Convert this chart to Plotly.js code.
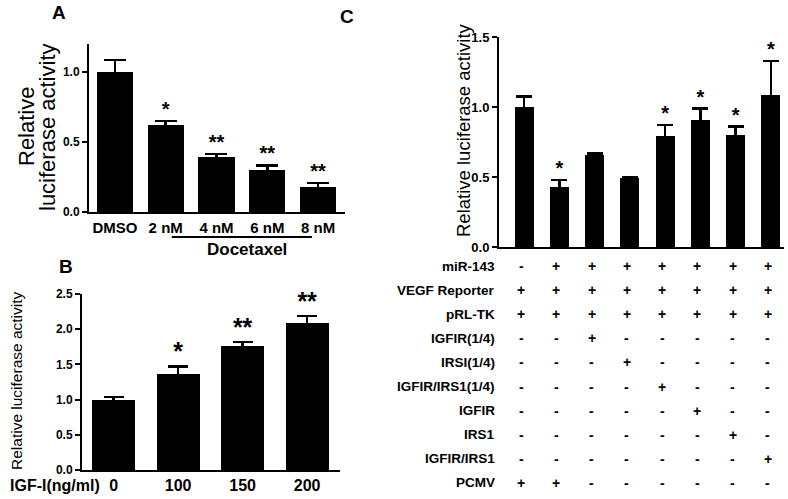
<!DOCTYPE html>
<html>
<head>
<meta charset="utf-8">
<script src="https://cdn.plot.ly/plotly-3.0.1.min.js"></script>
<style>html,body{margin:0;padding:0;background:#fff;}#chart{width:788px;height:499px;}</style>
</head>
<body>
<div id="chart"></div>
<script>
// ---- Panel A data ----
var catsA = ['DMSO', '2 nM', '4 nM', '6 nM', '8 nM'];
var valsA = [1.0, 0.62, 0.39, 0.30, 0.176];
var errA  = [0.084, 0.03, 0.025, 0.033, 0.031];
var sigA  = ['', '*', '**', '**', '**'];

// ---- Panel B data ----
var catsB = ['0', '100', '150', '200'];
var valsB = [1.0, 1.36, 1.76, 2.09];
var errB  = [0.04, 0.11, 0.06, 0.10];
var sigB  = ['', '*', '**', '**'];

// ---- Panel C data ----
var catsC = ['c1', 'c2', 'c3', 'c4', 'c5', 'c6', 'c7', 'c8'];
var valsC = [1.0, 0.426, 0.655, 0.49, 0.79, 0.91, 0.80, 1.088];
var errC  = [0.074, 0.053, 0.012, 0.008, 0.083, 0.078, 0.06, 0.24];
var sigC  = ['', '*', '', '', '*', '*', '*', '*'];

// ---- Panel C condition table ----
var rowLabels = ['miR-143', 'VEGF Reporter', 'pRL-TK', 'IGFIR(1/4)', 'IRSI(1/4)',
                 'IGFIR/IRS1(1/4)', 'IGFIR', 'IRS1', 'IGFIR/IRS1', 'PCMV'];
var rowSigns = [
  ['-', '+', '+', '+', '+', '+', '+', '+'],
  ['+', '+', '+', '+', '+', '+', '+', '+'],
  ['+', '+', '+', '+', '+', '+', '+', '+'],
  ['-', '-', '+', '-', '-', '-', '-', '-'],
  ['-', '-', '-', '+', '-', '-', '-', '-'],
  ['-', '-', '-', '-', '+', '-', '-', '-'],
  ['-', '-', '-', '-', '-', '+', '-', '-'],
  ['-', '-', '-', '-', '-', '-', '+', '-'],
  ['-', '-', '-', '-', '-', '-', '-', '+'],
  ['+', '+', '-', '-', '-', '-', '-', '-']
];

var FONT = 'Liberation Sans, Arial, sans-serif';
var W = 788, H = 499;
function px(x) { return x / W; }
function py(y) { return 1 - y / H; }
function add(v, e) { return v.map(function (d, i) { return d + e[i]; }); }

function barTrace(x, y, err, xa, ya, bw, capw) {
  return {
    type: 'bar', x: x, y: y, xaxis: xa, yaxis: ya, width: bw,
    marker: {color: '#000', line: {width: 0}},
    error_y: {type: 'data', array: err, visible: true, color: '#000', thickness: 2.5, width: capw},
    hoverinfo: 'skip', showlegend: false
  };
}
function sigTrace(x, y, s, xa, ya, fs) {
  return {
    type: 'scatter', mode: 'text', x: x, y: y, text: s, xaxis: xa, yaxis: ya,
    textposition: 'top center', cliponaxis: false,
    textfont: {family: FONT, size: fs, color: '#000', weight: 'bold'},
    hoverinfo: 'skip', showlegend: false
  };
}

var data = [
  barTrace(catsA, valsA, errA, 'x', 'y', 0.71, 11),
  sigTrace(catsA, add(valsA, errA), sigA, 'x', 'y', 20),
  barTrace(catsB, valsB, errB, 'x2', 'y2', 0.67, 10),
  sigTrace(catsB, add(valsB, errB), sigB, 'x2', 'y2', 25),
  barTrace(catsC, valsC, errC, 'x3', 'y3', 0.54, 8),
  sigTrace(catsC, add(valsC, errC), sigC, 'x3', 'y3', 20)
];

var yAxisBase = {
  showline: true, linewidth: 2, linecolor: '#000', showgrid: false, zeroline: false,
  ticks: 'outside', ticklen: 5, tickwidth: 2, tickcolor: '#000', tickformat: '.1f',
  tickfont: {family: FONT, size: 12, color: '#000', weight: 'bold'}, fixedrange: true
};
function yax(extra) { return Object.assign({}, yAxisBase, extra); }

function note(text, x, y, size, extra) {
  return Object.assign({text: text, x: px(x), y: py(y), xref: 'paper', yref: 'paper',
    xanchor: 'center', yanchor: 'middle', showarrow: false,
    font: {family: FONT, size: size, color: '#000'}}, extra || {});
}

var annotations = [
  note('A', 59, 12, 19, {font: {family: FONT, size: 19, weight: 'bold', color: '#000'}}),
  note('B', 66, 266, 19, {font: {family: FONT, size: 19, weight: 'bold', color: '#000'}}),
  note('C', 347, 16, 19, {font: {family: FONT, size: 19, weight: 'bold', color: '#000'}}),
  note('Relative', 27, 127, 22, {textangle: -90}),
  note('luciferase activity', 48, 127, 22, {textangle: -90}),
  note('Relative luciferase activity', 16, 381, 15.5, {textangle: -90}),
  note('Relative luciferase activity', 463, 130, 18.5, {textangle: -90}),
  {text: 'Docetaxel', x: 2.6, xref: 'x', y: py(250), yref: 'paper', xanchor: 'center', yanchor: 'middle',
   showarrow: false, font: {family: FONT, size: 17, weight: 'bold', color: '#000'}},
  note('IGF-I(ng/ml)', 8, 485, 16, {xanchor: 'left', font: {family: FONT, size: 16, weight: 'bold', color: '#000'}})
];

var rowY0 = 266, rowStep = 24.1;
rowLabels.forEach(function (lab, r) {
  var yy = rowY0 + r * rowStep;
  annotations.push(note(lab, 497, yy, 13.5, {xanchor: 'right',
    font: {family: FONT, size: 13.5, weight: 'bold', color: '#000'}}));
  rowSigns[r].forEach(function (s, c) {
    annotations.push({text: s, x: catsC[c], xref: 'x3', y: py(yy), yref: 'paper', xshift: -3,
      xanchor: 'center', yanchor: 'middle',
      showarrow: false, font: {family: FONT, size: 14, weight: 'bold', color: '#000'}});
  });
});

var layout = {
  width: W, height: H, margin: {l: 0, r: 0, t: 0, b: 0},
  paper_bgcolor: '#fff', plot_bgcolor: 'rgba(0,0,0,0)',
  showlegend: false, bargap: 0,
  font: {family: FONT, color: '#000'},
  xaxis: {domain: [px(89), px(345)], anchor: 'y', type: 'category', range: [-0.51, 4.53],
    showline: true, linewidth: 2, linecolor: '#000', ticks: '', showgrid: false, zeroline: false,
    ticklabelstandoff: 1, tickfont: {family: FONT, size: 15, weight: 'bold', color: '#000'}, fixedrange: true},
  yaxis: yax({domain: [py(212), py(44)], anchor: 'x', range: [0, 1.2], tickvals: [0, 0.5, 1.0]}),
  xaxis2: {domain: [px(82), px(340)], anchor: 'y2', type: 'category', range: [-0.49, 3.51],
    showline: true, linewidth: 2, linecolor: '#000', ticks: '', showgrid: false, zeroline: false,
    ticklabelstandoff: 0, tickfont: {family: FONT, size: 16, weight: 'bold', color: '#000'}, fixedrange: true},
  yaxis2: yax({domain: [py(470), py(294)], anchor: 'x2', range: [0, 2.5], tickvals: [0, 0.5, 1.0, 1.5, 2.0, 2.5]}),
  xaxis3: {domain: [px(499), px(784)], anchor: 'y3', type: 'category', range: [-0.71, 7.37],
    showline: true, linewidth: 2, linecolor: '#000', ticks: '', showticklabels: false,
    showgrid: false, zeroline: false, fixedrange: true},
  yaxis3: yax({domain: [py(247), py(37)], anchor: 'x3', range: [0, 1.5], tickvals: [0, 0.5, 1.0, 1.5],
    tickfont: {family: FONT, size: 13, color: '#000', weight: 'bold'}}),
  shapes: [
    {type: 'line', xref: 'x', yref: 'paper', x0: 1.12, x1: 3.88, y0: py(237), y1: py(237),
     line: {color: '#000', width: 2}}
  ],
  annotations: annotations
};

Plotly.newPlot('chart', data, layout, {staticPlot: true, displayModeBar: false});
</script>
</body>
</html>
